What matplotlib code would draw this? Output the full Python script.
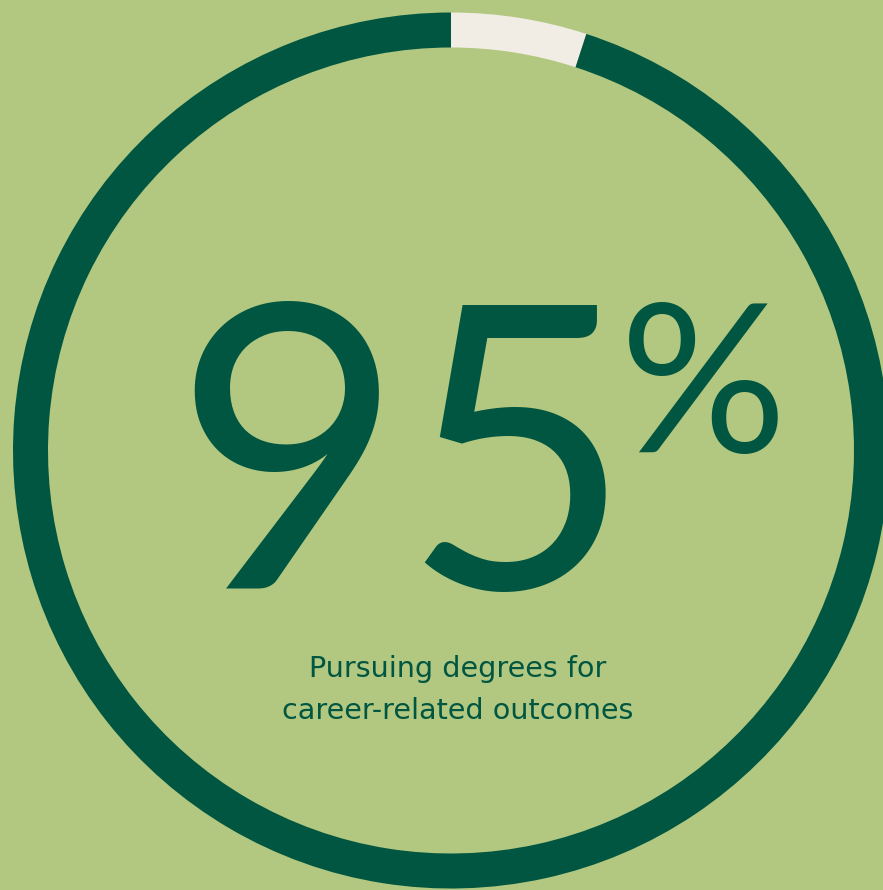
import matplotlib.pyplot as plt

# data
share_labels = ['Other', 'Career-related outcomes']
share_values = [5, 95]
big_number = '95'
big_suffix = '%'
caption_lines = ['Pursuing degrees for', 'career-related outcomes']

BG = '#B2C780'
DARK = '#005640'
CREAM = '#F1ECE4'

W, H = 883, 890
figure = plt.figure(figsize=(W / 100, H / 100), dpi=100, facecolor=BG)
ax = figure.add_axes([0, 0, 1, 1])
ax.set_facecolor(BG)

# ring drawn as a donut pie, cream slice starting at 12 o'clock going clockwise
cx, cy = 451, H - 450.5
ax.pie(share_values, colors=[CREAM, DARK], startangle=90, counterclock=False,
       radius=438, center=(cx, cy),
       wedgeprops=dict(width=35, linewidth=0))

ax.set_xlim(0, W)
ax.set_ylim(0, H)
ax.set_aspect('auto')
ax.axis('off')

font = 'Lato'
ax.text(403, H - 477, big_number, fontsize=285, color=DARK, family=font,
        ha='center', va='center', fontweight='normal')
ax.text(703, H - 394, big_suffix, fontsize=150, color=DARK, family=font,
        ha='center', va='center', fontweight='normal')

cap_font = ['DejaVu Sans']
ax.text(458, H - 669, caption_lines[0], fontsize=20.6, color=DARK, family=cap_font,
        ha='center', va='center', fontweight='normal')
ax.text(458, H - 711, caption_lines[1], fontsize=20.6, color=DARK, family=cap_font,
        ha='center', va='center', fontweight='normal')

plt.savefig('out.png', dpi=100, facecolor=BG)
